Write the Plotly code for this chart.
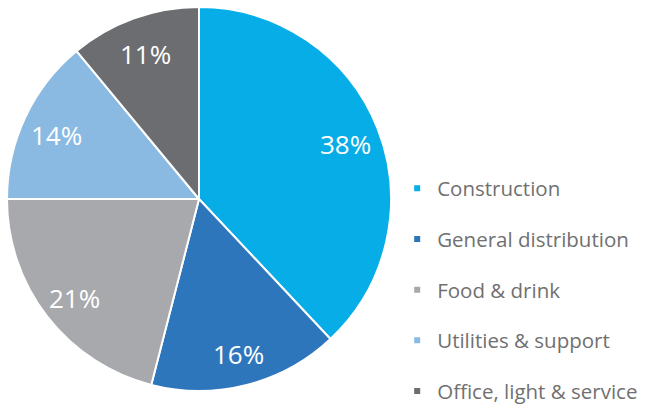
import math
import plotly.graph_objects as go

categories = ["Construction", "General distribution", "Food & drink", "Utilities & support", "Office, light & service"]
values = [38, 16, 21, 14, 11]
colors = ["#06ade7", "#2e76bc", "#a8a9ad", "#8abae2", "#6c6d70"]

W, H = 649, 408
dom_x = [7 / W, 391 / W]
dom_y = [17 / H, 401 / H]

fig = go.Figure()
fig.add_trace(go.Pie(
    labels=categories, values=values, sort=False, direction="clockwise", rotation=0,
    marker=dict(colors=colors, line=dict(color="white", width=2)),
    textinfo="none", showlegend=False, hoverinfo="label+value",
    domain=dict(x=dom_x, y=dom_y),
))
for i, (c, col) in enumerate(zip(categories, colors)):
    fig.add_trace(go.Scatter(
        x=[None], y=[None], mode="markers", name=c, legendgroup=str(i),
        marker=dict(symbol="square", size=6, color=col),
    ))

# percentage labels placed along each slice's bisector
cx_px = (dom_x[0] + dom_x[1]) / 2 * W
cy_px = (dom_y[0] + dom_y[1]) / 2 * H
r_px = min((dom_x[1] - dom_x[0]) * W, (dom_y[1] - dom_y[0]) * H) / 2
total = sum(values)
cum = 0
annotations = []
for v in values:
    mid = (cum + v / 2) / total * 2 * math.pi
    cum += v
    rr = 0.82 * r_px
    x = (cx_px + rr * math.sin(mid)) / W
    y = (cy_px + rr * math.cos(mid)) / H
    annotations.append(dict(x=x, y=y, xref="paper", yref="paper", text=f"{v}%",
                            xanchor="center", yanchor="middle", showarrow=False, yshift=-3,
                            font=dict(family="Open Sans", size=26, color="white")))

fig.update_layout(
    width=W, height=H, margin=dict(l=0, r=0, t=0, b=0, autoexpand=False),
    paper_bgcolor="white", plot_bgcolor="white",
    xaxis=dict(visible=False), yaxis=dict(visible=False),
    annotations=annotations,
    legend=dict(x=0.612, y=0.587, xanchor="left", yanchor="top",
                font=dict(family="Open Sans", size=20.5, color="#707070"),
                tracegroupgap=21, itemwidth=30),
)
fig.write_html("out.html", config={"displayModeBar": False},
               post_script="document.body.style.margin='0';")
